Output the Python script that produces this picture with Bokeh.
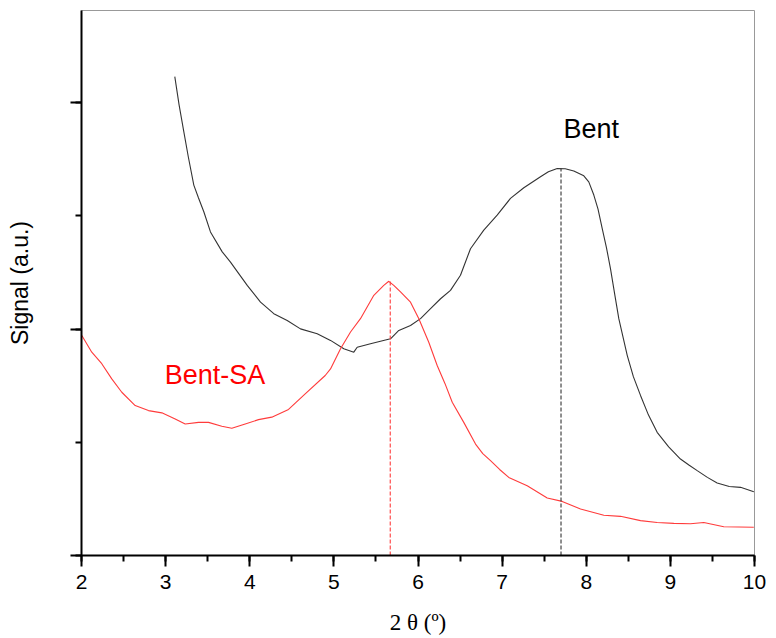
from bokeh.plotting import figure
from bokeh.models import SingleIntervalTicker, Label
from bokeh.embed import file_html
from bokeh.resources import INLINE

# 2-theta (deg) and signal (a.u.) for Bent
bent_x = [3.109, 3.16, 3.216, 3.27, 3.335, 3.39, 3.454, 3.533, 3.673, 3.771,
          3.970, 4.128, 4.286, 4.445, 4.603, 4.802, 4.960, 5.118, 5.237, 5.277,
          5.435, 5.554, 5.673, 5.772, 5.911, 6.030, 6.149, 6.268, 6.386, 6.505,
          6.624, 6.782, 6.941, 7.099, 7.258, 7.456, 7.55, 7.655, 7.75, 7.852,
          7.971, 8.03, 8.090, 8.14, 8.190, 8.24, 8.288, 8.34, 8.387, 8.44,
          8.487, 8.56, 8.645, 8.74, 8.843, 8.98, 9.120, 9.22, 9.319, 9.44,
          9.556, 9.70, 9.834, 9.992]
bent_y = [2115, 1990, 1872, 1760, 1636, 1580, 1518, 1429, 1341, 1296,
          1193, 1119, 1068, 1038, 1001, 979, 950, 913, 898, 920,
          935, 946, 957, 994, 1016, 1046, 1090, 1134, 1171, 1238,
          1355, 1437, 1503, 1577, 1624, 1673, 1695, 1709, 1708, 1698,
          1677, 1650, 1592, 1530, 1444, 1360, 1267, 1150, 1046, 960,
          884, 790, 707, 620, 544, 480, 426, 400, 375, 345,
          320, 305, 301, 282]

# 2-theta (deg) and signal (a.u.) for Bent-SA
sa_x = [2.004, 2.122, 2.241, 2.360, 2.479, 2.638, 2.796, 2.955, 3.114, 3.233,
        3.391, 3.510, 3.668, 3.787, 3.946, 4.104, 4.262, 4.461, 4.659, 4.897,
        4.960, 5.079, 5.198, 5.316, 5.475, 5.593, 5.653, 5.712, 5.792, 5.911,
        6.010, 6.128, 6.228, 6.32, 6.407, 6.544, 6.684, 6.77, 6.862, 6.97,
        7.079, 7.298, 7.536, 7.714, 7.932, 8.209, 8.407, 8.645, 8.843, 9.041,
        9.239, 9.397, 9.635, 9.992]
sa_y = [972, 898, 847, 780, 721, 662, 640, 630, 603, 581,
        588, 588, 571, 562, 581, 600, 611, 645, 714, 795,
        824, 913, 987, 1046, 1149, 1193, 1211, 1193, 1164, 1119,
        1046, 942, 839, 760, 677, 588, 492, 450, 419, 380,
        345, 308, 254, 239, 205, 178, 173, 154, 146, 142,
        140, 146, 127, 125]

peak_x = [5.67, 7.70]
peak_y = [1211, 1709]
labels = ["Bent", "Bent-SA"]
label_x = [7.73, 2.99]
label_y = [1885, 796]

p = figure(width=768, height=637, x_range=(2, 10), y_range=(0, 2407),
           output_backend="svg", toolbar_location=None,
           min_border_left=81, min_border_right=14, min_border_top=10,
           min_border_bottom=0)
p.background_fill_color = "white"
p.border_fill_color = "white"
p.grid.visible = False
p.outline_line_color = "#999999"
p.outline_line_width = 1

BLACK = "#333333"
RED = "#ff3b3b"

p.line(bent_x, bent_y, line_color=BLACK, line_width=1.1)
p.line(sa_x, sa_y, line_color=RED, line_width=1.1)

p.segment(x0=[peak_x[0]], y0=[0], x1=[peak_x[0]], y1=[peak_y[0]],
          line_color=RED, line_width=1.1, line_dash="4 2")
p.segment(x0=[peak_x[1]], y0=[0], x1=[peak_x[1]], y1=[peak_y[1]],
          line_color=BLACK, line_width=1.1, line_dash="4 2")

p.add_layout(Label(x=label_x[0], y=label_y[0], text=labels[0], text_color="black",
                   text_font="Liberation Sans", text_font_size="27px",
                   text_baseline="middle", text_align="left"))
p.add_layout(Label(x=label_x[1], y=label_y[1], text=labels[1], text_color="red",
                   text_font="Liberation Sans", text_font_size="27px",
                   text_baseline="middle", text_align="left"))

xt = SingleIntervalTicker(interval=1, num_minor_ticks=2)
yt = SingleIntervalTicker(interval=1000, num_minor_ticks=2)
p.xaxis.ticker = xt
p.yaxis.ticker = yt
for ax in (p.xaxis[0], p.yaxis[0]):
    ax.axis_line_color = "black"
    ax.axis_line_width = 2
    ax.major_tick_line_color = "black"
    ax.major_tick_line_width = 2
    ax.minor_tick_line_color = "black"
    ax.minor_tick_line_width = 2
    ax.major_tick_out = 11
    ax.major_tick_in = 0
    ax.minor_tick_out = 6
    ax.minor_tick_in = 0
    ax.axis_label_text_font_style = "normal"
    ax.axis_label_text_color = "black"

p.xaxis.major_label_text_font = "Liberation Sans"
p.xaxis.major_label_text_font_size = "21px"
p.xaxis.major_label_text_color = "black"
p.xaxis.major_label_standoff = 8
p.xaxis.axis_label = "2 θ (º)"
p.xaxis.axis_label_text_font = "Liberation Serif"
p.xaxis.axis_label_text_font_size = "23px"
p.xaxis.axis_label_standoff = 18

p.yaxis.major_label_overrides = {0: "", 1000: "", 2000: ""}
p.yaxis.major_label_text_font_size = "21px"
p.yaxis.major_label_standoff = 0
p.yaxis.axis_label = "Signal (a.u.)"
p.yaxis.axis_label_text_font = "Liberation Sans"
p.yaxis.axis_label_text_font_size = "23px"
p.yaxis.axis_label_standoff = 38

open("out.html", "w").write(file_html(p, INLINE))
